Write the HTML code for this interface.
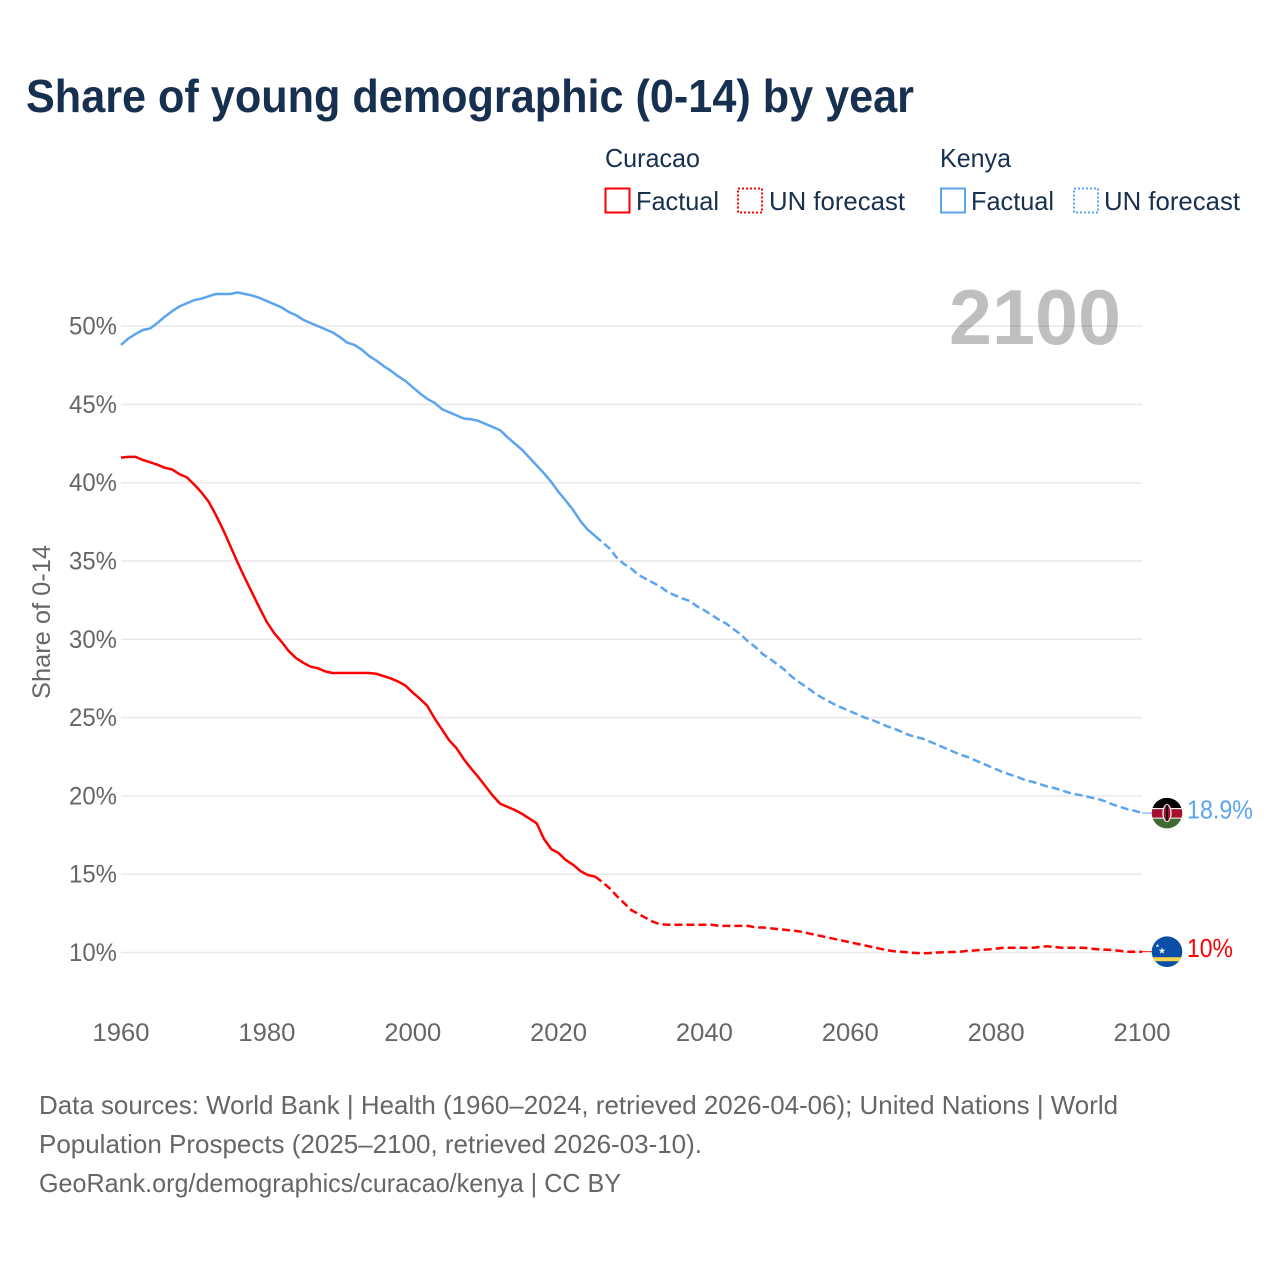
<!DOCTYPE html>
<html lang="en">
<head>
<meta charset="utf-8">
<title>Share of young demographic (0-14) by year</title>
<style>
html,body{margin:0;padding:0;background:#fff;}
svg{display:block;font-family:"Liberation Sans",sans-serif;}
</style>
</head>
<body>
<svg id="chart" xmlns="http://www.w3.org/2000/svg" width="1280" height="1280" viewBox="0 0 1280 1280">
  <rect width="1280" height="1280" fill="#fff"/>
  <text x="26" y="112" font-size="46" font-weight="700" fill="#18304f" textLength="888" lengthAdjust="spacingAndGlyphs">Share of young demographic (0-14) by year</text>

  <g font-size="26" fill="#18304f">
    <text x="605" y="167" textLength="95" lengthAdjust="spacingAndGlyphs">Curacao</text>
    <text x="940" y="167" textLength="71" lengthAdjust="spacingAndGlyphs">Kenya</text>
    <rect x="605.5" y="188.5" width="24" height="24" fill="none" stroke="#ff0000" stroke-width="2"/>
    <text x="636" y="210" textLength="83" lengthAdjust="spacingAndGlyphs">Factual</text>
    <rect x="738" y="188.5" width="24" height="24" fill="none" stroke="#ff0000" stroke-width="2" stroke-dasharray="2 2"/>
    <text x="769" y="210" textLength="136" lengthAdjust="spacingAndGlyphs">UN forecast</text>
    <rect x="941" y="188.5" width="24" height="24" fill="none" stroke="#5ba4ef" stroke-width="2"/>
    <text x="971" y="210" textLength="83" lengthAdjust="spacingAndGlyphs">Factual</text>
    <rect x="1074" y="188.5" width="24" height="24" fill="none" stroke="#5ba4ef" stroke-width="2" stroke-dasharray="2 2"/>
    <text x="1104" y="210" textLength="136" lengthAdjust="spacingAndGlyphs">UN forecast</text>
  </g>

  <g id="grid"></g>
  <g id="yticks" font-size="25" fill="#666666" text-anchor="end"></g>
  <g id="xticks" font-size="25" fill="#666666" text-anchor="middle"></g>
  <text transform="translate(50,622) rotate(-90)" font-size="25" fill="#666666" text-anchor="middle" textLength="154" lengthAdjust="spacingAndGlyphs">Share of 0-14</text>
  <text x="949" y="344" font-size="78" font-weight="700" fill="#000000" fill-opacity="0.25" textLength="172" lengthAdjust="spacingAndGlyphs">2100</text>
  <g id="series" fill="none" stroke-width="2.5" stroke-linejoin="round"></g>

  <g id="flag-kenya">
    <clipPath id="clip-kenya"><circle cx="0" cy="0" r="15.3"/></clipPath>
    <g clip-path="url(#clip-kenya)">
      <rect x="-16" y="-16" width="32" height="11" fill="#000000"/>
      <rect x="-16" y="-5" width="32" height="10.5" fill="#ffffff"/>
      <rect x="-16" y="-4" width="32" height="8.5" fill="#a3112f"/>
      <rect x="-16" y="5.5" width="32" height="11" fill="#3f6b32"/>
      <ellipse cx="0" cy="0" rx="4.6" ry="9" fill="#ffffff"/>
      <ellipse cx="0" cy="0" rx="3.4" ry="8" fill="#a3112f"/>
      <rect x="-1" y="-8" width="2" height="16" fill="#111111"/>
    </g>
  </g>
  <g id="flag-curacao">
    <clipPath id="clip-curacao"><circle cx="0" cy="0" r="15.3"/></clipPath>
    <g clip-path="url(#clip-curacao)">
      <rect x="-16" y="-16" width="32" height="32" fill="#0a4ea8"/>
      <rect x="-16" y="5.5" width="32" height="4" fill="#f9d24e"/>
      <polygon points="-5,-4.5 -4.1,-2 -1.6,-2 -3.6,-0.4 -2.9,2 -5,0.6 -7.1,2 -6.4,-0.4 -8.4,-2 -5.9,-2" fill="#e6edf7"/>
      <polygon points="-9.5,-8 -9,-6.6 -7.6,-6.6 -8.7,-5.7 -8.3,-4.3 -9.5,-5.1 -10.7,-4.3 -10.3,-5.7 -11.4,-6.6 -10,-6.6" fill="#e6edf7"/>
    </g>
  </g>

  <g id="endlabels" font-size="26"></g>

  <g font-size="26" fill="#666666">
    <text x="39" y="1114" textLength="1079" lengthAdjust="spacingAndGlyphs">Data sources: World Bank | Health (1960–2024, retrieved 2026-04-06); United Nations | World</text>
    <text x="39" y="1153" textLength="663" lengthAdjust="spacingAndGlyphs">Population Prospects (2025–2100, retrieved 2026-03-10).</text>
    <text x="39" y="1192" textLength="582" lengthAdjust="spacingAndGlyphs">GeoRank.org/demographics/curacao/kenya | CC BY</text>
  </g>
</svg>
<script>
var yTickValues = [10, 15, 20, 25, 30, 35, 40, 45, 50];
var xTickValues = [1960, 1980, 2000, 2020, 2040, 2060, 2080, 2100];
var factualStartYear = 1960;
var forecastStartYear = 2025;

var kenyaFactual = [48.8,49.2,49.5,49.75,49.85,50.2,50.6,50.95,51.25,51.45,51.65,51.75,51.9,52.05,52.05,52.05,52.15,52.05,51.95,51.8,51.6,51.4,51.2,50.9,50.7,50.4,50.2,50,49.8,49.6,49.3,48.95,48.8,48.5,48.1,47.8,47.45,47.15,46.8,46.5,46.1,45.7,45.35,45.1,44.7,44.5,44.3,44.1,44.05,43.95,43.75,43.55,43.35,42.9,42.5,42.1,41.6,41.1,40.6,40.05,39.4,38.85,38.25,37.55,37,36.6];
var kenyaForecast = [36.6,36.2,35.8,35.2,34.8,34.5,34.1,33.85,33.6,33.35,33,32.8,32.6,32.45,32.1,31.85,31.55,31.25,31,30.65,30.3,29.85,29.5,29.05,28.75,28.4,28.05,27.6,27.25,26.95,26.6,26.3,26.05,25.8,25.6,25.4,25.2,25,24.85,24.65,24.45,24.3,24.1,23.9,23.75,23.65,23.45,23.25,23.05,22.85,22.65,22.5,22.3,22.1,21.9,21.7,21.5,21.35,21.2,21,20.9,20.75,20.6,20.5,20.35,20.2,20.1,20,19.9,19.8,19.65,19.45,19.3,19.15,19.05,18.9];
var curacaoFactual = [41.6,41.65,41.65,41.45,41.3,41.15,40.95,40.85,40.55,40.35,39.9,39.4,38.8,37.95,37,35.95,34.9,33.9,32.95,32,31.1,30.4,29.85,29.25,28.8,28.5,28.25,28.15,27.95,27.85,27.85,27.85,27.85,27.85,27.85,27.8,27.65,27.5,27.3,27.05,26.6,26.2,25.75,24.95,24.25,23.55,23.05,22.35,21.75,21.2,20.6,20,19.5,19.3,19.1,18.85,18.55,18.25,17.25,16.6,16.35,15.9,15.6,15.2,14.95,14.85];
var curacaoForecast = [14.85,14.5,14.1,13.6,13.15,12.7,12.45,12.2,11.95,11.8,11.77,11.77,11.77,11.77,11.77,11.77,11.77,11.7,11.7,11.7,11.7,11.7,11.6,11.6,11.55,11.5,11.45,11.4,11.35,11.25,11.15,11.05,10.95,10.85,10.75,10.65,10.55,10.45,10.35,10.25,10.15,10.08,10.05,10,9.97,9.95,9.97,10,10.02,10.03,10.05,10.1,10.13,10.17,10.2,10.25,10.3,10.3,10.3,10.3,10.3,10.35,10.4,10.35,10.3,10.3,10.3,10.3,10.25,10.2,10.18,10.15,10.1,10.05,10.05,10.05];

var SVG_NS = 'http://www.w3.org/2000/svg';
function xScale(year) { return 121 + (year - 1960) * (1021 / 140); }
function yScale(value) { return 952.5 - (value - 10) * 15.66; }

function make(tag, parentId) {
  var el = document.createElementNS(SVG_NS, tag);
  document.getElementById(parentId).appendChild(el);
  return el;
}

yTickValues.forEach(function (v) {
  var line = make('line', 'grid');
  
  
  line.setAttribute('x1', xScale(1960));
  line.setAttribute('x2', xScale(2100));
  line.setAttribute('y1', yScale(v));
  line.setAttribute('y2', yScale(v));
  line.setAttribute('stroke', '#e9e9e9');
  line.setAttribute('stroke-width', '1.5');

  var label = make('text', 'yticks');
  
  
  label.setAttribute('x', 117);
  label.setAttribute('y', yScale(v) + 8.5);
  label.setAttribute('textLength', '48');
  label.setAttribute('lengthAdjust', 'spacingAndGlyphs');
  label.textContent = v + '%';
});

xTickValues.forEach(function (year) {
  var label = make('text', 'xticks');
  
  
  label.setAttribute('x', xScale(year));
  label.setAttribute('y', 1041);
  label.setAttribute('textLength', '57');
  label.setAttribute('lengthAdjust', 'spacingAndGlyphs');
  label.textContent = year;
});

function linePath(values, startYear) {
  return values.map(function (v, i) {
    return (i ? 'L' : 'M') + xScale(startYear + i).toFixed(2) + ' ' + yScale(v).toFixed(2);
  }).join(' ');
}

function drawSeries(values, startYear, color, dashed, name) {
  var path = make('path', 'series');
  
  
  path.setAttribute('d', linePath(values, startYear));
  path.setAttribute('stroke', color);
  if (dashed) path.setAttribute('stroke-dasharray', '8 4');
}

drawSeries(curacaoFactual, factualStartYear, '#ff0000', false, 'curacao-factual-line');
drawSeries(curacaoForecast, forecastStartYear, '#ff0000', true, 'curacao-forecast-line');
drawSeries(kenyaFactual, factualStartYear, '#5ba4ef', false, 'kenya-factual-line');
drawSeries(kenyaForecast, forecastStartYear, '#5ba4ef', true, 'kenya-forecast-line');

function endMarker(values, color, flagId, text, width) {
  var last = values[values.length - 1];
  var y = yScale(last);
  document.getElementById(flagId).setAttribute('transform', 'translate(1167,' + y.toFixed(2) + ')');

  var link = make('line', 'series');
  
  
  link.setAttribute('x1', xScale(2100));
  link.setAttribute('x2', 1152);
  link.setAttribute('y1', y);
  link.setAttribute('y2', y);
  link.setAttribute('stroke', color);
  link.setAttribute('stroke-width', '1');

  var label = make('text', 'endlabels');
  
  
  label.setAttribute('x', 1187);
  label.setAttribute('y', y + 5.5);
  label.setAttribute('fill', color);
  label.setAttribute('textLength', width);
  label.setAttribute('lengthAdjust', 'spacingAndGlyphs');
  label.textContent = text;
}

endMarker(kenyaForecast, '#5ba4ef', 'flag-kenya', '18.9%', 66);
endMarker(curacaoForecast, '#ff0000', 'flag-curacao', '10%', 46);
</script>
</body>
</html>
